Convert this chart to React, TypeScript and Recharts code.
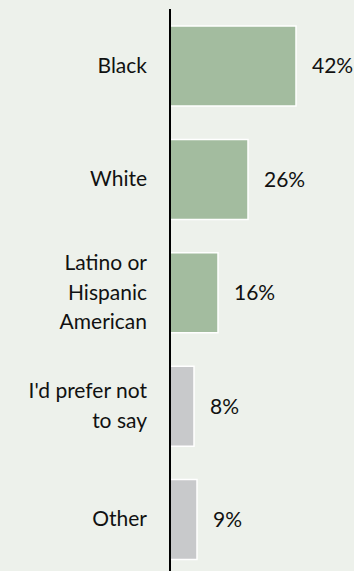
import React from "react";
import { BarChart, Bar, XAxis, YAxis, Cell, LabelList } from "recharts";

const categories = ["Black", "White", "Latino or Hispanic American", "I'd prefer not to say", "Other"];
const categoryLines = [["Black"], ["White"], ["Latino or", "Hispanic", "American"], ["I'd prefer not", "to say"], ["Other"]];
const values = [42, 26, 16, 8, 9];
const barColors = ["#A3BC9F", "#A3BC9F", "#A3BC9F", "#C8C9CB", "#C8C9CB"];

const data = categories.map((name, i) => ({ name, value: values[i] }));

const FONT = "Lato, 'Open Sans', sans-serif";

const CategoryTick = (props: any) => {
  const { x, y, payload } = props;
  const lines = categoryLines[payload.index] || [payload.value];
  const lh = 29.5;
  return (
    <text x={x} y={y} textAnchor="end" fill="#111" fontSize={21} fontFamily={FONT}>
      {lines.map((l: string, i: number) => (
        <tspan key={i} x={x} dy={i === 0 ? (-(lines.length - 1) / 2) * lh + 7 : lh}>
          {l}
        </tspan>
      ))}
    </text>
  );
};

const App = () => {
  return (
    <div
      style={{
        position: "absolute",
        top: 0,
        left: 0,
        width: 354,
        height: 571,
        overflow: "hidden",
        background: "#EDF1EB",
      }}
    >
      <BarChart
        width={354}
        height={576}
        data={data}
        layout="vertical"
        margin={{ top: 9, right: 4, bottom: 0, left: 0 }}
      >
        <XAxis type="number" domain={[0, 60]} hide />
        <YAxis
          type="category"
          dataKey="name"
          width={170}
          axisLine={{ stroke: "#000", strokeWidth: 2 }}
          tickLine={false}
          tickSize={0}
          tickMargin={23}
          tick={<CategoryTick />}
          interval={0}
        />
        <Bar dataKey="value" barSize={80} stroke="#fff" strokeWidth={1.5} isAnimationActive={false}>
          {data.map((d, i) => (
            <Cell key={d.name} fill={barColors[i]} />
          ))}
          <LabelList
            dataKey="value"
            position="right"
            offset={16}
            formatter={(v: any) => `${v}%`}
            fill="#111"
            fontSize={21}
            fontFamily={FONT}
          />
        </Bar>
      </BarChart>
    </div>
  );
};

export default App;
